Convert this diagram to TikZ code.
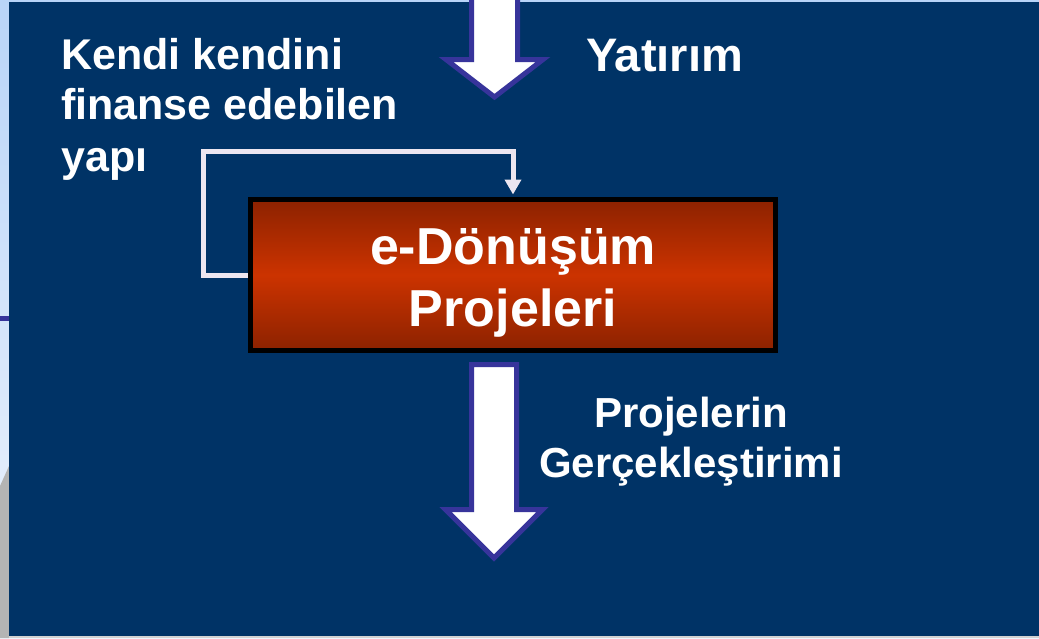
\documentclass[tikz,border=0pt]{standalone}
\usepackage{fontspec}
\setmainfont{Liberation Sans}
\usetikzlibrary{arrows.meta}
\definecolor{bgblue}{RGB}{0,51,102}
\definecolor{arrowpurple}{RGB}{55,52,155}
\definecolor{boxdark}{RGB}{140,34,0}
\definecolor{boxmid}{RGB}{204,51,0}
\definecolor{loopwhite}{RGB}{236,230,240}
\definecolor{stripblue}{RGB}{184,212,248}
\definecolor{stripwhite}{RGB}{240,245,253}
\definecolor{grayband}{RGB}{180,180,180}
\begin{document}
\begin{tikzpicture}[x=1pt,y=-1pt,
  lbl/.style={text=white, font=\bfseries\fontsize{43}{51}\selectfont, inner sep=0pt, anchor=base west},
  clbl/.style={lbl, font=\bfseries\fontsize{42}{50}\selectfont, anchor=base},
  boxlbl/.style={text=white, font=\bfseries\fontsize{52}{62}\selectfont, inner sep=0pt, anchor=base},
  blockarrow/.style={draw=arrowpurple, fill=white, line width=5pt, line join=miter},
  projbox/.style={draw=black, line width=5pt, minimum width=525pt, minimum height=151pt,
    inner sep=0pt, top color=boxdark, bottom color=boxdark, middle color=boxmid},
  loopline/.style={draw=loopwhite, line width=5pt, -{Triangle[width=16pt,length=15pt]}}
]
\useasboundingbox (0,0) rectangle (1039,638);
% background
\shade[top color=stripblue, bottom color=stripwhite] (0,0) rectangle (1039,638);
\fill[grayband] (0,486) -- (9,466) -- (9,638) -- (0,638) -- cycle;
\fill[arrowpurple] (0,316) rectangle (9,321);
\fill[bgblue] (9,2) rectangle (1039,636);
\fill[grayband!60!white] (9,636) rectangle (1039,638);

% top block arrow
\draw[blockarrow] (471.5,-8) -- (517.5,-8) -- (517.5,59.5) -- (543,59.5) -- (494.5,97) -- (446,59.5) -- (471.5,59.5) -- cycle;
% bottom block arrow
\draw[blockarrow] (471.5,364.5) -- (516.5,364.5) -- (516.5,509.5) -- (542.5,509.5) -- (494,558) -- (445.5,509.5) -- (471.5,509.5) -- cycle;

% central box
\node[projbox] (proj) at (513,275) {};
\node[boxlbl] (projl1) at (513,264) {e-Dönüşüm};
\node[boxlbl] (projl2) at (513,326) {Projeleri};

% feedback loop
\coordinate (fbleft) at (203,151);
\coordinate (fbright) at (513,151);
\draw[loopline, shorten >=2.5pt] (proj.west) -| (fbleft) -- (fbright) -- (fbright |- proj.north);

% labels
\node[lbl] (k1) at (61,69) {Kendi kendini};
\node[lbl] (k2) at (61,119) {finanse edebilen};
\node[lbl] (k3) at (61,171) {yapı};
\node[lbl, font=\bfseries\fontsize{47}{55}\selectfont] (yat) at (586,71) {Yatırım};
\node[clbl] (pg1) at (691,427) {Projelerin};
\node[clbl] (pg2) at (691,477) {Gerçekleştirimi};
\end{tikzpicture}
\end{document}
